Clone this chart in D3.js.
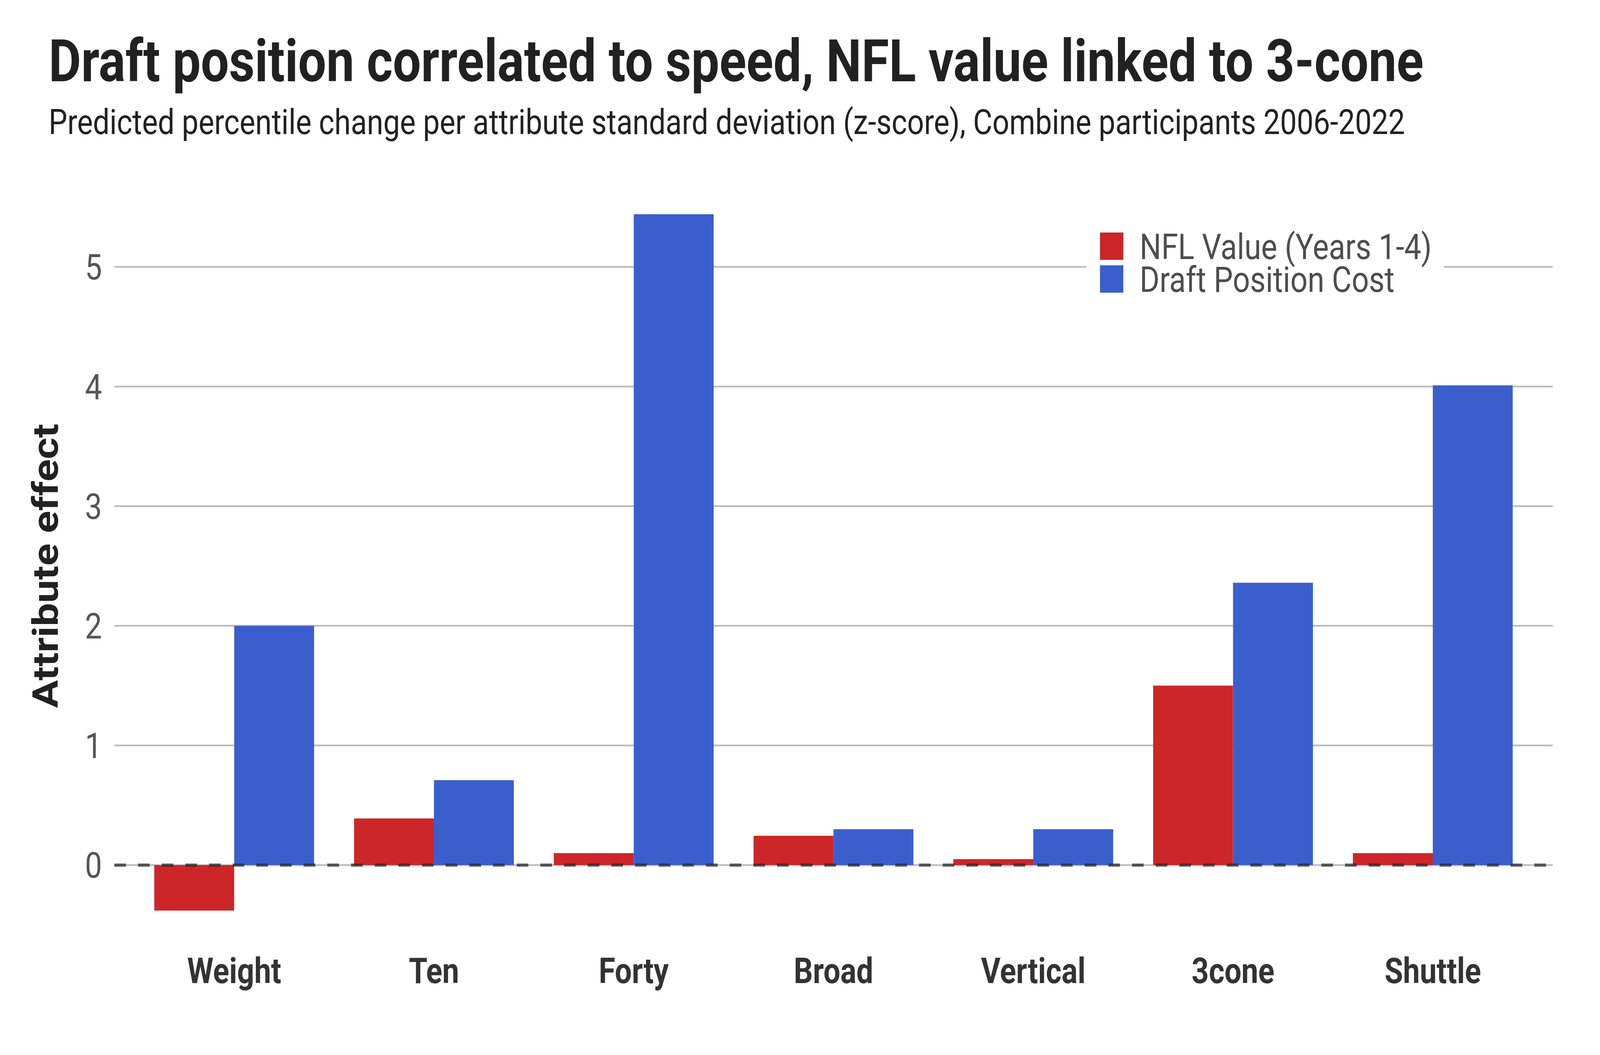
<!DOCTYPE html>
<html>
<head>
<meta charset="utf-8">
<script src="https://cdn.jsdelivr.net/npm/d3@7"></script>
<style>
  html, body { margin: 0; padding: 0; background: #ffffff; width: 100%; height: 100%; overflow: hidden; }
  svg { display: block; width: 100vw; height: 100vh; }
  text { font-family: Roboto, "Noto Sans", sans-serif; }
</style>
</head>
<body>
<script>
// ---- data ----
const categories = ["Weight", "Ten", "Forty", "Broad", "Vertical", "3cone", "Shuttle"];
const seriesNames = ["NFL Value (Years 1-4)", "Draft Position Cost"];
const nflValue = [-0.38, 0.39, 0.10, 0.245, 0.05, 1.50, 0.10];
const draftCost = [2.00, 0.71, 5.44, 0.30, 0.30, 2.36, 4.01];
const yTicks = [0, 1, 2, 3, 4, 5];
const titleText = "Draft position correlated to speed, NFL value linked to 3-cone";
const subtitleText = "Predicted percentile change per attribute standard deviation (z-score), Combine participants 2006-2022";
const yAxisTitle = "Attribute effect";

// ---- layout (designed on a 4800x2700 canvas, stretched to fill the viewport) ----
const W = 4800, H = 2700;
const plot = { left: 343, right: 4658, top: 683, zero: 2214 };
const colors = ["#cc2628", "#3a5fcd"];

const svg = d3.select("body").append("svg")
  .attr("viewBox", `0 0 ${W} ${H}`)
  .attr("preserveAspectRatio", "none");
svg.append("rect").attr("width", W).attr("height", H).attr("fill", "#ffffff");

const x = d3.scaleBand().domain(categories).range([plot.left, plot.right])
  .paddingInner(0.2).paddingOuter(0.2);
const xs = d3.scaleBand().domain([0, 1]).range([0, x.bandwidth()]);
const y = d3.scaleLinear().domain([0, 5]).range([plot.zero, plot.top]);

// title / subtitle
svg.append("text").attr("x", 146).attr("y", 208)
  .attr("font-size", 150).attr("font-weight", 700).attr("fill", "#212121")
  .text(titleText);
svg.append("text").attr("x", 146).attr("y", 343)
  .attr("font-size", 89).attr("font-weight", 400).attr("fill", "#212121")
  .text(subtitleText);

// gridlines
svg.append("g").selectAll("line").data(yTicks).join("line")
  .attr("x1", plot.left).attr("x2", plot.right)
  .attr("y1", d => y(d)).attr("y2", d => y(d))
  .attr("stroke", "#bdbdbd").attr("stroke-width", 4.5);

// y tick labels
const yAxis = d3.axisLeft(y).tickValues(yTicks).tickSize(0).tickPadding(0).tickFormat(d3.format("d"));
const yg = svg.append("g").attr("transform", `translate(306,0)`).call(yAxis);
yg.select(".domain").remove();
yg.selectAll("text").attr("font-size", 91).attr("fill", "#555555")
  .attr("font-family", "Roboto, sans-serif").attr("dy", "0.35em");

// y axis title
svg.append("text")
  .attr("transform", `translate(173,1448) rotate(-90)`)
  .attr("text-anchor", "middle")
  .attr("font-size", 106).attr("font-weight", 700).attr("fill", "#212121")
  .text(yAxisTitle);

// bars
const rows = categories.map((c, i) => ({ c, vals: [nflValue[i], draftCost[i]] }));
const groups = svg.append("g").selectAll("g").data(rows).join("g")
  .attr("transform", d => `translate(${x(d.c)},0)`);
groups.selectAll("rect").data(d => d.vals.map((v, k) => ({ v, k }))).join("rect")
  .attr("x", d => xs(d.k)).attr("width", xs.bandwidth())
  .attr("y", d => Math.min(y(d.v), y(0)))
  .attr("height", d => Math.abs(y(d.v) - y(0)))
  .attr("fill", d => colors[d.k]);

// dashed zero baseline on top
svg.append("line")
  .attr("x1", plot.left).attr("x2", plot.right)
  .attr("y1", y(0)).attr("y2", y(0))
  .attr("stroke", "#222222").attr("stroke-opacity", 0.7)
  .attr("stroke-width", 8).attr("stroke-dasharray", "35 36");

// category labels
const xAxis = d3.axisBottom(x).tickSize(0).tickPadding(0);
const xg = svg.append("g").attr("transform", `translate(0,2516)`).call(xAxis);
xg.select(".domain").remove();
xg.selectAll("text").attr("font-size", 90).attr("font-weight", 700)
  .attr("fill", "#333333").attr("font-family", "Roboto, sans-serif").attr("dy", 0);

// legend
const lg = svg.append("g");
lg.append("rect").attr("x", 3259).attr("y", 575).attr("width", 1072).attr("height", 190).attr("fill", "#ffffff");
seriesNames.forEach((name, i) => {
  lg.append("rect").attr("x", 3300).attr("y", 595 + i * 84).attr("width", 70).attr("height", 70)
    .attr("fill", colors[i]);
  lg.append("text").attr("x", 3419).attr("y", 663 + i * 84)
    .attr("font-size", 91).attr("fill", "#4d4d4d").text(name);
});
</script>
</body>
</html>
